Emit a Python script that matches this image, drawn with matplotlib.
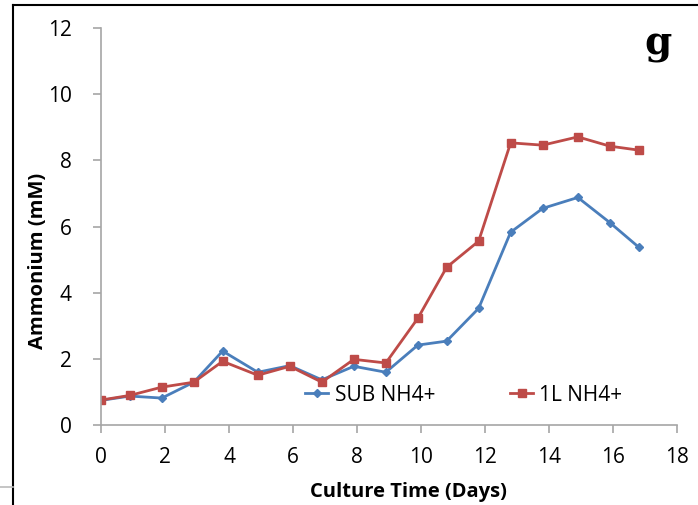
import matplotlib.pyplot as plt
from matplotlib.lines import Line2D

# Data
days = [0, 0.9, 1.9, 2.9, 3.8, 4.9, 5.9, 6.9, 7.9, 8.9, 9.9, 10.8, 11.8, 12.8, 13.8, 14.9, 15.9, 16.8]
sub_nh4 = [0.75, 0.88, 0.82, 1.3, 2.24, 1.6, 1.8, 1.37, 1.78, 1.6, 2.42, 2.54, 3.53, 5.83, 6.55, 6.88, 6.12, 5.38]
l1_nh4 = [0.76, 0.9, 1.15, 1.3, 1.93, 1.51, 1.78, 1.3, 1.99, 1.88, 3.23, 4.77, 5.56, 8.53, 8.46, 8.71, 8.43, 8.31]

plt.rcParams['font.family'] = ['Open Sans', 'DejaVu Sans']

fig = plt.figure(figsize=(6.98, 5.05), dpi=100)
ax = fig.add_axes([0.1447, 0.158, 0.8253, 0.7866])

ax.plot(days, sub_nh4, color='#4A7EBB', marker='D', markersize=4, linewidth=2, label='SUB NH4+')
ax.plot(days, l1_nh4, color='#BE4B48', marker='s', markersize=6, linewidth=2, label='1L NH4+')

ax.set_xlim(0, 18)
ax.set_ylim(0, 12)
ax.set_xticks(range(0, 19, 2))
ax.set_yticks(range(0, 13, 2))

for s in ['top', 'right']:
    ax.spines[s].set_visible(False)
for s in ['left', 'bottom']:
    ax.spines[s].set_color('#A6A6A6')
    ax.spines[s].set_linewidth(1.2)
ax.tick_params(colors='#A6A6A6', labelcolor='black', labelsize=15, length=6, width=1.2, direction='out')
ax.tick_params(axis='x', pad=10)
ax.tick_params(axis='y', pad=15)

ax.set_xlabel('Culture Time (Days)', fontsize=14.5, fontweight='bold', labelpad=10)
ax.set_ylabel('Ammonium (mM)', fontsize=14.5, fontweight='bold', labelpad=0)
ax.xaxis.label.set_x(0.533)
ax.yaxis.label.set_y(0.413)

ax.legend(loc='center', bbox_to_anchor=(0.63, 0.076), ncol=2, frameon=False,
          fontsize=15, columnspacing=3.6, handlelength=1.1, handletextpad=0.3,
          borderpad=0, borderaxespad=0)

# panel letter
fig.text(0.942, 0.912, 'g', fontsize=28, fontweight='bold', family='DejaVu Serif', ha='center', va='center')

# page border lines around the figure
fig.add_artist(Line2D([13 / 698, 13 / 698], [0, 1 - 5 / 505], color='black', linewidth=1.5))
fig.add_artist(Line2D([13 / 698, 1], [1 - 5 / 505, 1 - 5 / 505], color='black', linewidth=1.5))
fig.add_artist(Line2D([0, 13 / 698], [1 - 487 / 505, 1 - 487 / 505], color='#BBBBBB', linewidth=1.2))

fig.savefig('out.png', dpi=100)
